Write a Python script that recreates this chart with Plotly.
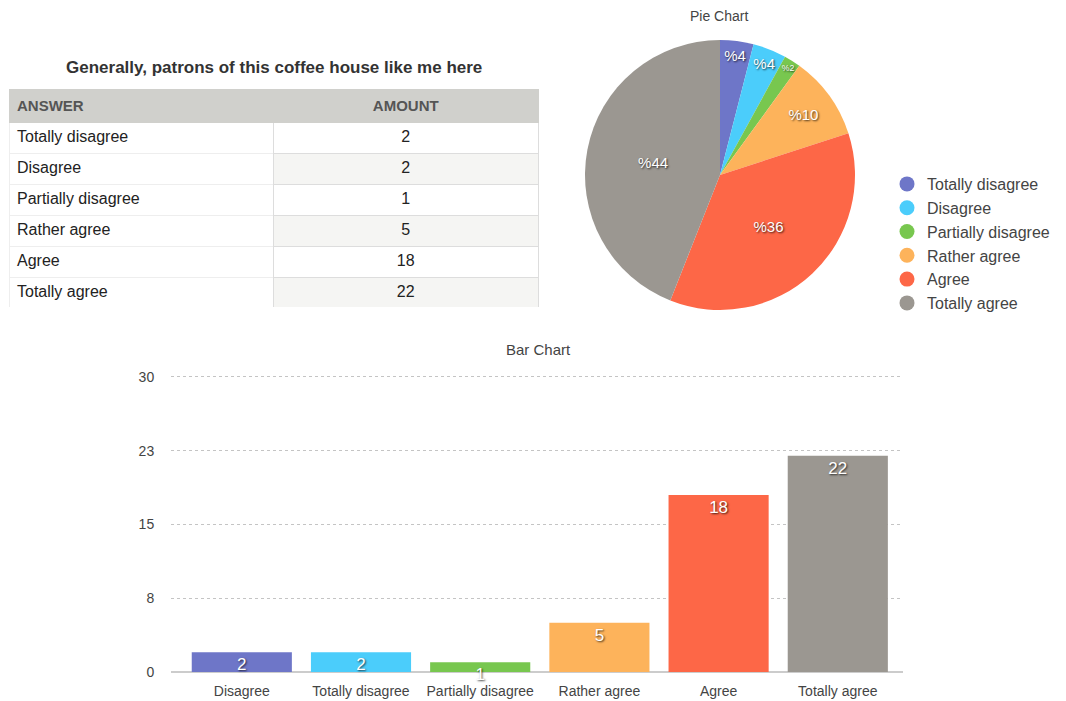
import plotly.graph_objects as go

# ---- data ----
answers = ["Totally disagree", "Disagree", "Partially disagree", "Rather agree", "Agree", "Totally agree"]
amounts = [2, 2, 1, 5, 18, 22]
bar_labels = ["Disagree", "Totally disagree", "Partially disagree", "Rather agree", "Agree", "Totally agree"]
colors = ["#6e76c8", "#4bcdfb", "#78c74f", "#fdb35b", "#fd6747", "#9b9791"]
ytick_vals = [0, 7.5, 15, 22.5, 30]
ytick_text = ["0", "8", "15", "23", "30"]
table_title = "Generally, patrons of this coffee house like me here"

# page has an 8px body margin, so the figure is drawn from (8, 8)
OFF = 8
W, H = 1066 - OFF, 701 - OFF
def px(x): return (x - OFF) / W
def py(y): return 1 - (y - OFF) / H

FONT = "Liberation Sans, Arial, Helvetica, sans-serif"
SHADOW = "1px 1px 2px rgba(0,0,0,0.75)"

total = sum(amounts)
pie_text = ["%" + str(round(v / total * 100)) for v in amounts]

fig = go.Figure()

# Table
fill_col2 = ["#ffffff" if i % 2 == 0 else "#f5f5f3" for i in range(len(answers))]
fig.add_trace(go.Table(
    domain=dict(x=[px(9), px(538)], y=[py(308), py(89)]),
    columnwidth=[1, 1],
    header=dict(values=["<b>ANSWER</b>", "<b>AMOUNT</b>"],
                fill_color="#d0d0cc", line_color="#d0d0cc",
                align=["left", "center"], height=31,
                font=dict(family=FONT, size=15, color="#555555")),
    cells=dict(values=[answers, amounts],
               fill_color=[["#ffffff"] * len(answers), fill_col2],
               line_color=["#eeeeee", "#dddddd"],
               align=["left", "center"], height=31,
               font=dict(family=FONT, size=16, color="#222222")),
))

# Pie
fig.add_trace(go.Pie(
    labels=answers, values=amounts, text=pie_text,
    textinfo="text", textposition="inside", insidetextorientation="horizontal",
    sort=False, direction="clockwise", rotation=0,
    marker=dict(colors=colors, line=dict(color="rgba(0,0,0,0)", width=0)),
    textfont=dict(family=FONT, size=15, color="white", shadow=SHADOW),
    domain=dict(x=[px(585), px(855)], y=[py(310), py(40)]),
    showlegend=False, hoverinfo="label+value+percent",
))

# Bar
fig.add_trace(go.Bar(
    x=bar_labels, y=amounts, text=[str(v) for v in amounts],
    textposition="inside", insidetextanchor="end", constraintext="none",
    textangle=0, cliponaxis=False,
    textfont=dict(family=FONT, size=17, color="white", shadow=SHADOW),
    marker=dict(color=colors, line=dict(width=0)),
    xaxis="x", yaxis="y", showlegend=False,
))

# Legend dummy traces (circles)
for lab, col in zip(answers, colors):
    fig.add_trace(go.Scatter(
        x=[None], y=[None], mode="markers", name=lab,
        marker=dict(symbol="circle", size=15, color=col),
        xaxis="x2", yaxis="y2", showlegend=True,
    ))

fig.update_layout(
    width=W, height=H,
    margin=dict(l=0, r=0, t=0, b=0, autoexpand=False),
    paper_bgcolor="white", plot_bgcolor="white",
    font=dict(family=FONT, color="#444444"),
    bargap=0.16,
    xaxis=dict(domain=[px(171), px(903)], range=[-0.594, 5.547],
               showgrid=False, showline=False,
               zeroline=False, tickfont=dict(size=14, color="#444444"),
               ticks="outside", ticklen=6, tickcolor="rgba(0,0,0,0)", fixedrange=True,
               automargin=False),
    yaxis=dict(domain=[py(672), py(375)], range=[0, 30.2],
               tickvals=ytick_vals, ticktext=ytick_text,
               showgrid=True, gridcolor="#c4c4c4", griddash="dot", gridwidth=1,
               zeroline=True, zerolinecolor="#cccccc", zerolinewidth=2,
               showline=False, tickfont=dict(size=14, color="#444444"),
               ticks="outside", ticklen=13, tickcolor="rgba(0,0,0,0)", fixedrange=True,
               automargin=False),
    xaxis2=dict(domain=[0.99, 1.0], visible=False),
    yaxis2=dict(domain=[0.99, 1.0], visible=False),
    legend=dict(x=px(887), y=py(167), xanchor="left", yanchor="top",
                font=dict(family=FONT, size=16, color="#444444"),
                itemwidth=30, tracegroupgap=0, bgcolor="rgba(0,0,0,0)"),
    annotations=[
        dict(text="<b>" + table_title + "</b>", x=px(274), y=py(68), xref="paper", yref="paper",
             showarrow=False, font=dict(family=FONT, size=17, color="#333333"),
             xanchor="center", yanchor="middle"),
        dict(text="Pie Chart", x=px(719), y=py(16), xref="paper", yref="paper",
             showarrow=False, font=dict(family=FONT, size=14, color="#444444"),
             xanchor="center", yanchor="middle"),
        dict(text="Bar Chart", x=px(538), y=py(350), xref="paper", yref="paper",
             showarrow=False, font=dict(family=FONT, size=15, color="#444444"),
             xanchor="center", yanchor="middle"),
    ],
)

fig.write_html("out.html")
